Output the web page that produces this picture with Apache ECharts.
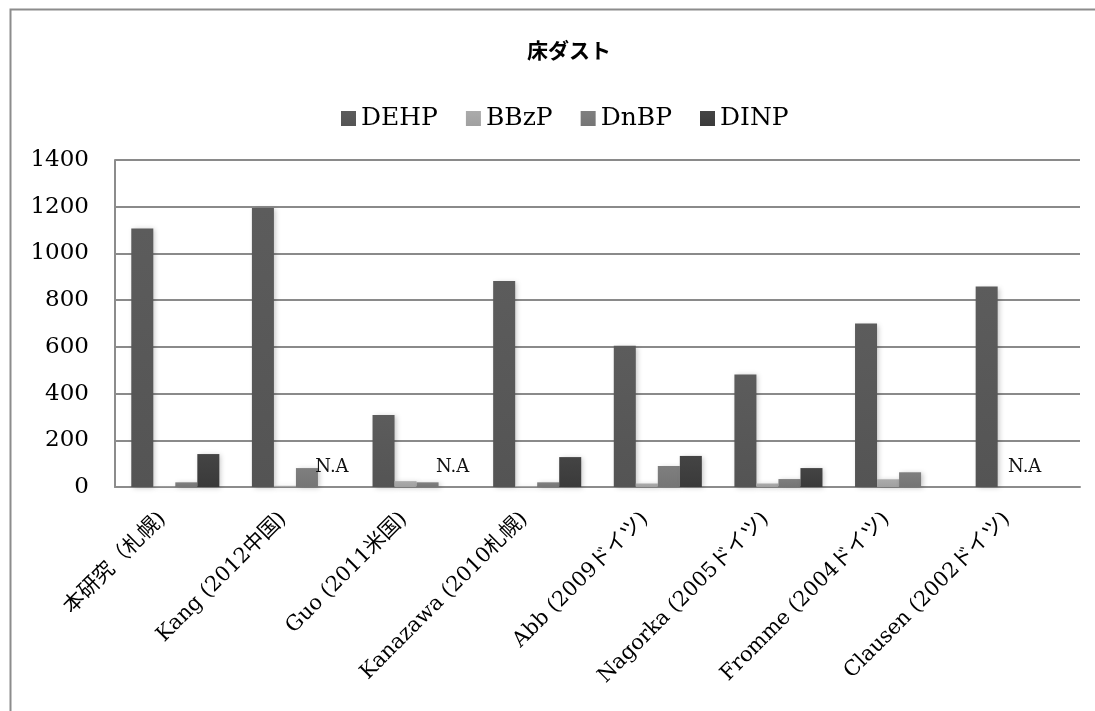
<!DOCTYPE html>
<html>
<head>
<meta charset="utf-8">
<script src="https://cdn.jsdelivr.net/npm/echarts@6/dist/echarts.min.js"></script>
<style>
  html, body { margin: 0; padding: 0; background: #fff; }
  #chart { width: 1095px; height: 711px; }
</style>
</head>
<body>
<div id="chart"></div>
<script>
// Phthalate concentrations in floor dust by study
const titleText = '床ダスト';
const categories = [
  '本研究（札幌)',
  'Kang (2012中国)',
  'Guo (2011米国)',
  'Kanazawa (2010札幌)',
  'Abb (2009ドイツ)',
  'Nagorka (2005ドイツ)',
  'Fromme (2004ドイツ)',
  'Clausen (2002ドイツ)'
];
const seriesNames = ['DEHP', 'BBzP', 'DnBP', 'DINP'];
const dehp = [1107, 1194, 308, 882, 605, 482, 700, 858];
const bbzp = [2, 5, 25, 4, 15, 15, 33, null];
const dnbp = [20, 81, 20, 20, 90, 34, 63, 0];
const dinp = [141, 0, 0, 128, 133, 81, null, null];
// studies that did not report a value: [series index, category index]
const notAvailable = [[3, 1], [3, 2], [2, 7]];
const naText = 'N.A';
const yTicks = { min: 0, max: 1400, interval: 200 };

const serif = '"DejaVu Serif", "Liberation Serif", "Noto Sans CJK JP", serif';
const colors = ['#5a5a5a', '#a8a8a8', '#7c7c7c', '#3f3f3f'];

function shade(lighter, darker) {
  return new echarts.graphic.LinearGradient(0, 0, 0, 1, [
    { offset: 0, color: lighter },
    { offset: 1, color: darker }
  ]);
}
const fills = [
  shade('#5c5c5c', '#545454'),
  shade('#ababab', '#a0a0a0'),
  shade('#7f7f7f', '#757575'),
  shade('#444444', '#3a3a3a')
];

const values = [dehp, bbzp, dnbp, dinp];

const series = seriesNames.map((name, si) => ({
  name: name,
  type: 'bar',
  barGap: '0%',
  barCategoryGap: '27%',
  itemStyle: {
    color: fills[si],
    shadowBlur: 5,
    shadowOffsetX: 2,
    shadowOffsetY: 1,
    shadowColor: 'rgba(0,0,0,0.22)'
  },
  data: values[si].map((v, ci) => {
    const na = notAvailable.find(p => p[0] === si && p[1] === ci);
    if (!na) return v;
    return {
      value: v,
      label: {
        show: true,
        position: 'top',
        distance: 11,
        offset: si === 2 ? [-6, 0] : [3, 0],
        formatter: naText,
        fontFamily: serif,
        fontSize: 18,
        color: '#111'
      }
    };
  })
}));

const chart = echarts.init(document.getElementById('chart'), null, { renderer: 'canvas' });
chart.setOption({
  backgroundColor: '#fff',
  animation: false,
  color: colors,
  title: {
    text: titleText,
    left: 564,
    top: 35,
    textAlign: 'center',
    textStyle: {
      fontFamily: '"Noto Sans CJK JP", sans-serif',
      fontSize: 21,
      fontWeight: 'bold',
      color: '#000'
    }
  },
  legend: {
    data: seriesNames,
    left: 336,
    top: 101,
    itemWidth: 15,
    itemHeight: 15,
    itemGap: 28,
    icon: 'rect',
    textStyle: { fontFamily: serif, fontSize: 25, color: '#000' }
  },
  grid: { left: 115, right: 15, top: 160, bottom: 224, containLabel: false },
  xAxis: {
    type: 'category',
    data: categories,
    axisLine: { lineStyle: { color: '#8c8c8c', width: 2 } },
    axisTick: { show: false },
    axisLabel: {
      rotate: 45,
      interval: 0,
      margin: 16,
      padding: [0, 18, 0, 0],
      fontFamily: serif,
      fontSize: 21,
      color: '#000'
    }
  },
  yAxis: {
    type: 'value',
    min: yTicks.min,
    max: yTicks.max,
    interval: yTicks.interval,
    axisLine: { show: true, lineStyle: { color: '#8c8c8c', width: 2 } },
    axisTick: { show: false },
    splitLine: { lineStyle: { color: '#8a8a8a', width: 2 } },
    axisLabel: {
      margin: 26,
      formatter: v => String(v),
      fontFamily: serif,
      fontSize: 23,
      color: '#000'
    }
  },
  graphic: [{
    type: 'rect',
    left: 8,
    top: 7,
    shape: { width: 1100, height: 720 },
    style: { fill: 'none', stroke: '#8c8c8c', lineWidth: 2 },
    silent: true,
    z: -1
  }],
  series: series
});
</script>
</body>
</html>
